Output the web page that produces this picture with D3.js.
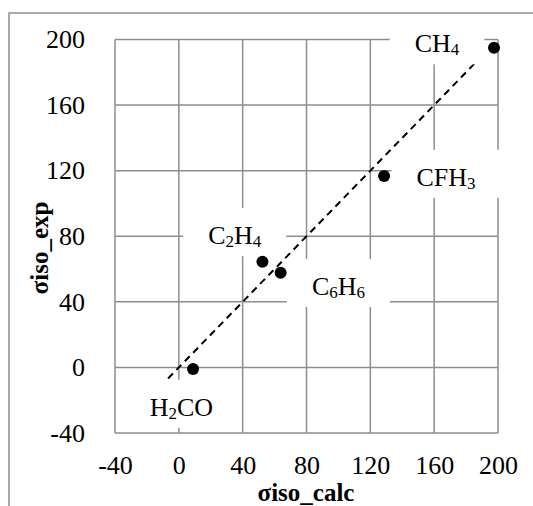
<!DOCTYPE html>
<html><head><meta charset="utf-8">
<script src="https://cdn.jsdelivr.net/npm/d3@7"></script>
<style>body{margin:0;background:#fff}svg{display:block}
svg text{font-family:"Liberation Serif","DejaVu Serif",serif}</style>
</head><body><svg id="c" width="533" height="506"></svg>
<script>
// ---- data ----
const molecules = ["CH4", "CFH3", "C2H4", "C6H6", "H2CO"];
const sigmaCalc = [197.5, 128.6, 52.4, 63.8, 8.9];
const sigmaExp  = [195, 116.7, 64.4, 57.7, -1];
const xTickValues = [-40, 0, 40, 80, 120, 160, 200];
const yTickValues = [-40, 0, 40, 80, 120, 160, 200];
const refLineX = [-12, 188];           // ideal line y = x
const xTitle = "σiso_calc";
const yTitle = "σiso_exp";

// ---- layout ----
const FONT = '"Liberation Serif","DejaVu Serif",serif';
const labelOffsets = [[-57, -4.4], [62, 0.7], [-27.7, -26.7], [57.8, 13.1], [-11.6, 37.7]];
const grid = "#8e8e8e";

const svg = d3.select("#c");
const x = d3.scaleLinear().domain([-40, 200]).range([115, 498]);
const y = d3.scaleLinear().domain([-40, 200]).range([433, 39.5]);

// chart area border (only left & top visible)
svg.append("path").attr("d", "M9,506V13H533").attr("fill", "none")
  .attr("stroke", grid).attr("stroke-width", 1.5);

// gridlines
const g = svg.append("g");
g.selectAll(".vx").data(xTickValues).join("line")
  .attr("x1", d => x(d)).attr("x2", d => x(d))
  .attr("y1", y(200)).attr("y2", y(-40))
  .attr("stroke", grid).attr("stroke-width", 1.5);
g.selectAll(".hy").data(yTickValues).join("line")
  .attr("y1", d => y(d)).attr("y2", d => y(d))
  .attr("x1", x(-40)).attr("x2", x(200))
  .attr("stroke", grid).attr("stroke-width", 1.5);

// axes (labels only)
const xAxis = svg.append("g").attr("transform", `translate(0,${y(-40)})`)
  .call(d3.axisBottom(x).tickValues(xTickValues).tickSize(0).tickPadding(23).tickFormat(d => String(d)));
const yAxis = svg.append("g").attr("transform", `translate(${x(-40)},0)`)
  .call(d3.axisLeft(y).tickValues(yTickValues).tickSize(0).tickPadding(30).tickFormat(d => String(d)));
[xAxis, yAxis].forEach(a => {
  a.attr("font-family", null);
  a.select(".domain").remove();
  a.selectAll("text").style("font-family", FONT).attr("font-size", 26).attr("fill", "#000");
});

// reference line
svg.append("line")
  .attr("x1", x(refLineX[0])).attr("y1", y(refLineX[0]))
  .attr("x2", x(refLineX[1])).attr("y2", y(refLineX[1]))
  .attr("stroke", "#000").attr("stroke-width", 2).attr("stroke-dasharray", "7,5");

// data labels with white boxes
function addFormula(textSel, s) {
  const parts = s.match(/[0-9]+|[^0-9]+/g);
  let sub = false;
  parts.forEach(p => {
    const isNum = /^[0-9]+$/.test(p);
    const t = textSel.append("tspan").text(p);
    if (isNum) { t.attr("font-size", 17).attr("dy", sub ? 0 : 3); sub = true; }
    else { t.attr("font-size", 26).attr("dy", sub ? -3 : 0); sub = false; }
  });
}
const labels = svg.append("g");
molecules.forEach((m, i) => {
  const cx = x(sigmaCalc[i]) + labelOffsets[i][0];
  const cy = y(sigmaExp[i]) + labelOffsets[i][1];
  const grp = labels.append("g");
  const rect = grp.append("rect").attr("fill", "#fff");
  const t = grp.append("text").attr("x", cx).attr("y", cy + 9)
    .attr("text-anchor", "middle").style("font-family", FONT).attr("font-size", 26);
  addFormula(t, m);
  const w = t.node().getComputedTextLength();
  rect.attr("x", cx - w / 2 - 25).attr("width", w + 50)
      .attr("y", cy - 27).attr("height", 48);
});

// points
svg.selectAll(".pt").data(molecules).join("circle")
  .attr("cx", (d, i) => x(sigmaCalc[i])).attr("cy", (d, i) => y(sigmaExp[i]))
  .attr("r", 6).attr("fill", "#000");

// axis titles
svg.append("text").attr("x", 306).attr("y", 501).attr("text-anchor", "middle")
  .style("font-family", FONT).attr("font-weight", "bold").attr("font-size", 25).text(xTitle);
svg.append("text").attr("transform", "translate(48,248) rotate(-90)").attr("text-anchor", "middle")
  .style("font-family", FONT).attr("font-weight", "bold").attr("font-size", 25).text(yTitle);
</script></body></html>
